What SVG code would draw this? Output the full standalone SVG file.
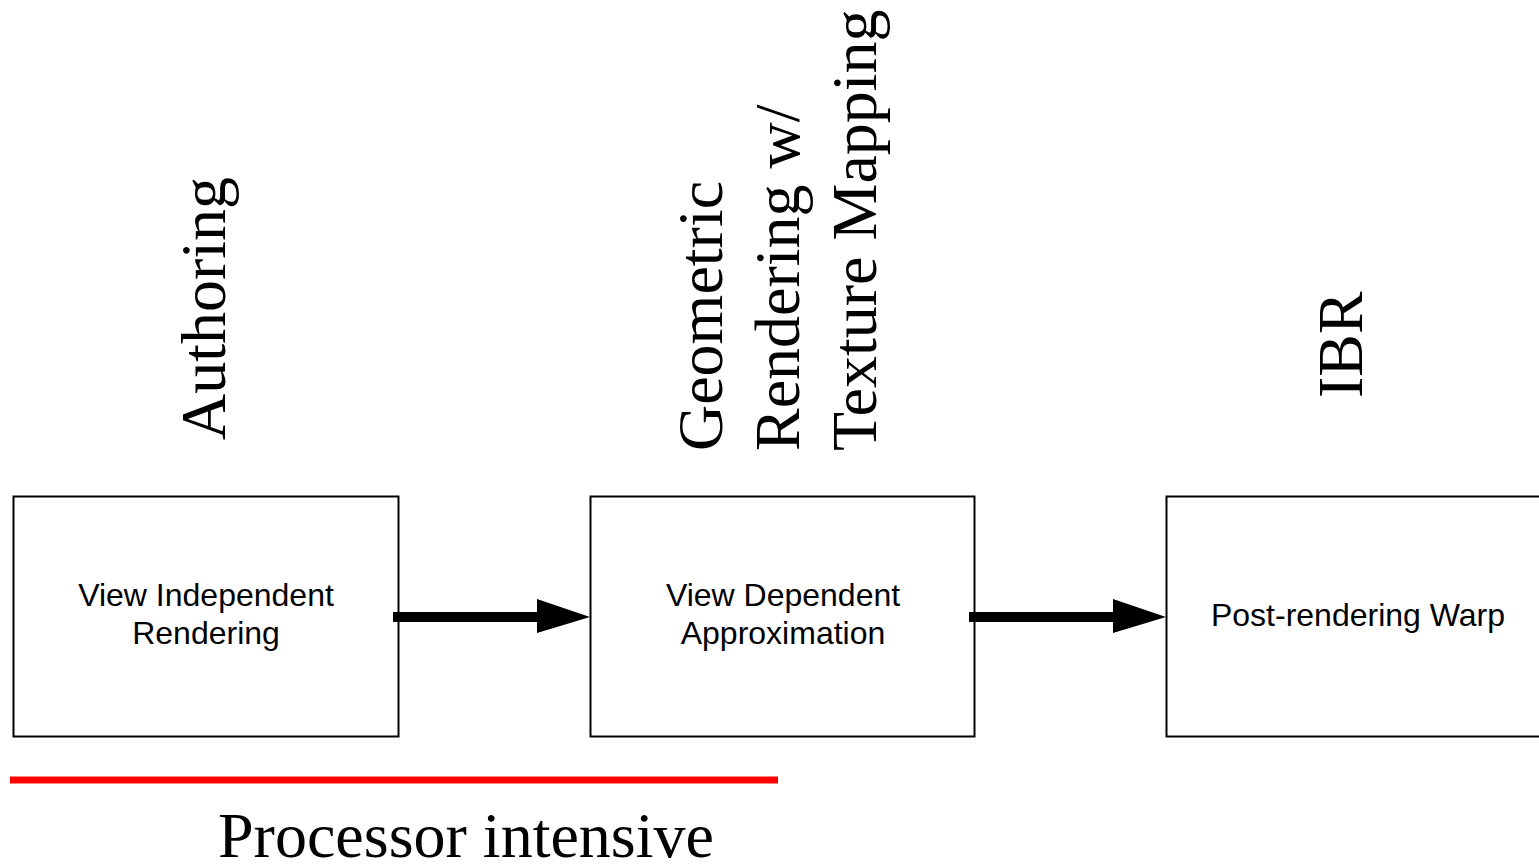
<svg xmlns="http://www.w3.org/2000/svg" width="1539" height="864" viewBox="0 0 1539 864">
<style>
.box{fill:#fff;stroke:#000;stroke-width:2}
.lbl{font-family:"Liberation Sans",Arial,sans-serif;font-size:32px;fill:#000;text-anchor:middle}
.big{font-family:"Liberation Serif","Times New Roman",serif;font-size:64px;fill:#000}
.shaft{stroke:#000;stroke-width:10;fill:none}
.head{fill:#000}
</style>
<rect width="1539" height="864" fill="#fff"/>
<g id="authoring-label"><text class="big" transform="translate(225,440) rotate(-90)">Authoring</text></g>
<g id="geometric-label">
<text class="big" transform="translate(722,451) rotate(-90)">Geometric</text>
<text class="big" transform="translate(799,451) rotate(-90)">Rendering w/</text>
<text class="big" transform="translate(876,451) rotate(-90)">Texture Mapping</text>
</g>
<g id="ibr-label"><text class="big" transform="translate(1362,398) rotate(-90)">IBR</text></g>
<g id="node-view-independent">
<rect class="box" x="13.5" y="496.5" width="385" height="240"/>
<text class="lbl" x="206" y="606">View Independent</text>
<text class="lbl" x="206" y="644">Rendering</text>
</g>
<g id="node-view-dependent">
<rect class="box" x="590.5" y="496.5" width="384" height="240"/>
<text class="lbl" x="783" y="606">View Dependent</text>
<text class="lbl" x="783" y="644">Approximation</text>
</g>
<g id="node-post-rendering">
<rect class="box" x="1166.5" y="496.5" width="400" height="240"/>
<text class="lbl" x="1358" y="626">Post-rendering Warp</text>
</g>
<g id="connectors">
<line class="shaft" x1="393" y1="617" x2="540" y2="617"/>
<polygon class="head" points="537,599 590,617 537,633"/>
<line class="shaft" x1="969" y1="617" x2="1116" y2="617"/>
<polygon class="head" points="1113,599 1166,617 1113,633"/>
</g>
<g id="processor-intensive">
<line x1="10" y1="780" x2="778" y2="780" stroke="#ff0000" stroke-width="7"/>
<text class="big" x="218" y="857">Processor intensive</text>
</g>
</svg>
